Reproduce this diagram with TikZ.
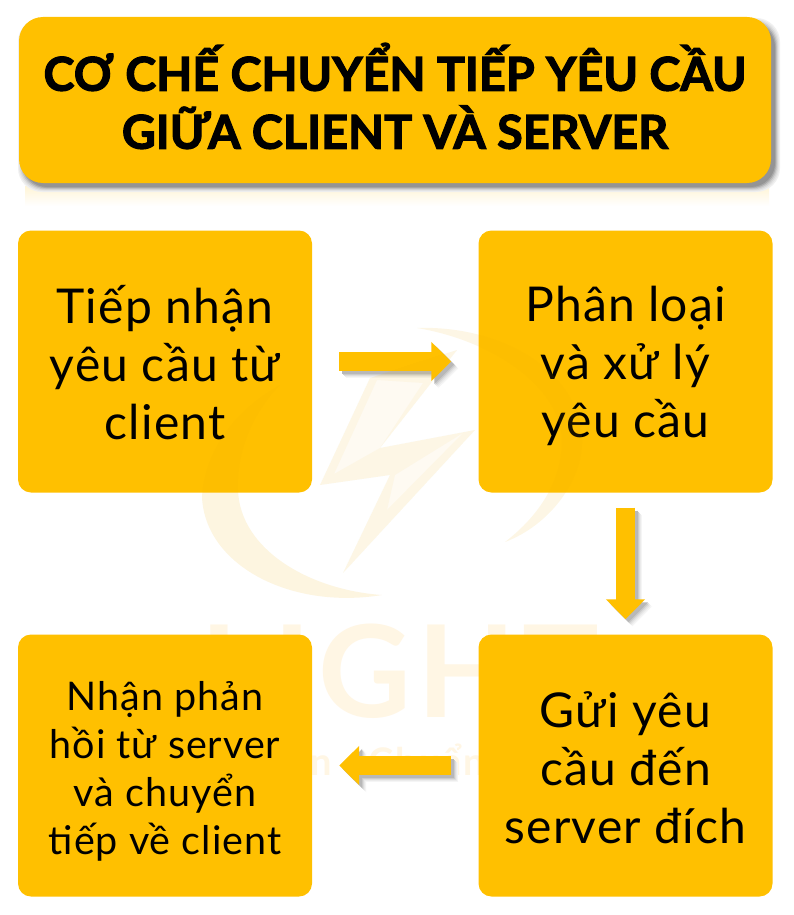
\documentclass[tikz,border=0pt]{standalone}
\usepackage{fontspec}
\setmainfont{Lato}[LetterSpace=2.5]
\newfontfamily\titlef[FakeBold=2.6,LetterSpace=0.4]{Lato Bold}
\newfontfamily\wmf[LetterSpace=5]{Lato Bold}
\usetikzlibrary{arrows.meta}
\definecolor{boxc}{RGB}{255,192,0}
\definecolor{wmtext}{RGB}{255,246,228}
\definecolor{wmtint}{RGB}{240,176,5}
\newcommand{\firstA}{\rule{0pt}{45pt}}
\newcommand{\lastA}{\rule[-6pt]{0pt}{6pt}}
\newcommand{\firstB}{\rule{0pt}{40pt}}
\newcommand{\lastB}{\rule[-7pt]{0pt}{7pt}}
\tikzset{
  stepbox/.style={fill=boxc,rounded corners=13pt,minimum width=294pt,minimum height=262pt,align=center,text=black,inner sep=0pt},
  bodyA/.style={font=\fontsize{48}{58}\selectfont},
  bodyB/.style={font=\fontsize{39.5}{48}\selectfont},
  titlebox/.style={fill=boxc,rounded corners=24pt,minimum width=752pt,minimum height=166pt,inner sep=0pt},
  titletext/.style={align=center,font=\titlef\fontsize{46.5}{58}\selectfont,inner sep=0pt,text=black},
  flow/.style={line width=19pt,boxc,-{Triangle[length=20pt,width=38pt]},shorten <=#1,shorten >=#1},
  flowshade/.style 2 args={line width=19pt,#2,-{Triangle[length=20pt,width=38pt]},shorten <=#1,shorten >=#1},
  tint/.style={fill=wmtint,fill opacity=#1},
}
\begin{document}
\begin{tikzpicture}[x=1pt,y=-1pt]
\useasboundingbox (0,0) rectangle (794,915);
\fill[white] (0,0) rectangle (794,915);
% faint reflection under the title
\shade[top color=boxc!16,bottom color=white] (25,186) rectangle (769,206);
% watermark lettering (hidden by the boxes)
\node[text=wmtext,font=\wmf\fontsize{128}{128}\selectfont,inner sep=0pt] (wmark) at (400,671) {LIGHT};
\node[text=wmtext,font=\wmf\fontsize{38}{38}\selectfont,inner sep=0pt] (wmsub) at (398,760) {n - Chuẩn};
% title
\foreach \w/\c in {10/6,8/10,6/16,4/24,2/34,0/42}{
  \fill[black!\c,rounded corners=24pt] (23-\w/2,23-\w/2) rectangle (775+\w/2,187+\w/2);
}
\node[titlebox] (title) at (395,100) {};
\node[titletext] (titlelabel) at (395,96) {CƠ CHẾ CHUYỂN TIẾP YÊU CẦU\\GIỮA CLIENT VÀ SERVER};
% boxes
\node[stepbox,bodyA] (n1) at (165,361.5) {\firstA Tiếp nhận\\yêu cầu từ\\client\lastA};
\node[stepbox,bodyA] (n2) at (625.5,361.5) {\firstA Phân loại\\và xử lý\\yêu cầu\lastA};
\node[stepbox,bodyA] (n3) at (625.5,765.5) {\firstA Gửi yêu\\cầu đến\\server đích\lastA};
\node[stepbox,bodyB] (n4) at (165,765.5) {\firstB Nhận phản\\hồi từ server\\và chuyển\\tiếp về client\lastB};
% connectors with soft shadows
\foreach \s/\c in {7/4,6/8,5/13,4/20,3/28}{
  \draw[flowshade={27pt}{black!\c}] ([shift={(\s,\s)}]n1.east) -- ([shift={(\s,\s)}]n2.west);
  \draw[flowshade={15pt}{black!\c}] ([shift={(\s,\s)}]n2.south) -- ([shift={(\s,\s)}]n3.north);
  \draw[flowshade={27pt}{black!\c}] ([shift={(\s,\s)}]n3.west) -- ([shift={(\s,\s)}]n4.east);
}
\draw[flow=27pt] (n1.east) -- (n2.west);
\draw[flow=15pt] (n2.south) -- (n3.north);
\draw[flow=27pt] (n3.west) -- (n4.east);
% watermark emblem, faint over everything
\fill[tint=.12] (280,385) .. controls (235,410) and (205,450) .. (202,497) .. controls (205,565) and (290,610) .. (382,595) .. controls (310,590) and (240,550) .. (238,490) .. controls (236,450) and (255,410) .. (280,385) -- cycle;
\fill[tint=.10] (417,328) .. controls (500,325) and (580,370) .. (582,440) .. controls (583,480) and (550,525) .. (505,542) .. controls (540,515) and (562,480) .. (562,440) .. controls (560,385) and (490,340) .. (417,328) -- cycle;
\fill[tint=.05] (457,350) -- (370,378) -- (320,485) -- (390,475) -- (343,573) -- (475,430) -- (380,448) -- cycle;
\fill[tint=.05,even odd rule] (457,350) -- (370,378) -- (320,485) -- (390,475) -- (343,573) -- (475,430) -- (380,448) -- cycle
  (423,383) -- (377,380) -- (334,474) -- (380,448) -- cycle
  (463,433) -- (395,475) -- (387,510) -- cycle;
\end{tikzpicture}
\end{document}
